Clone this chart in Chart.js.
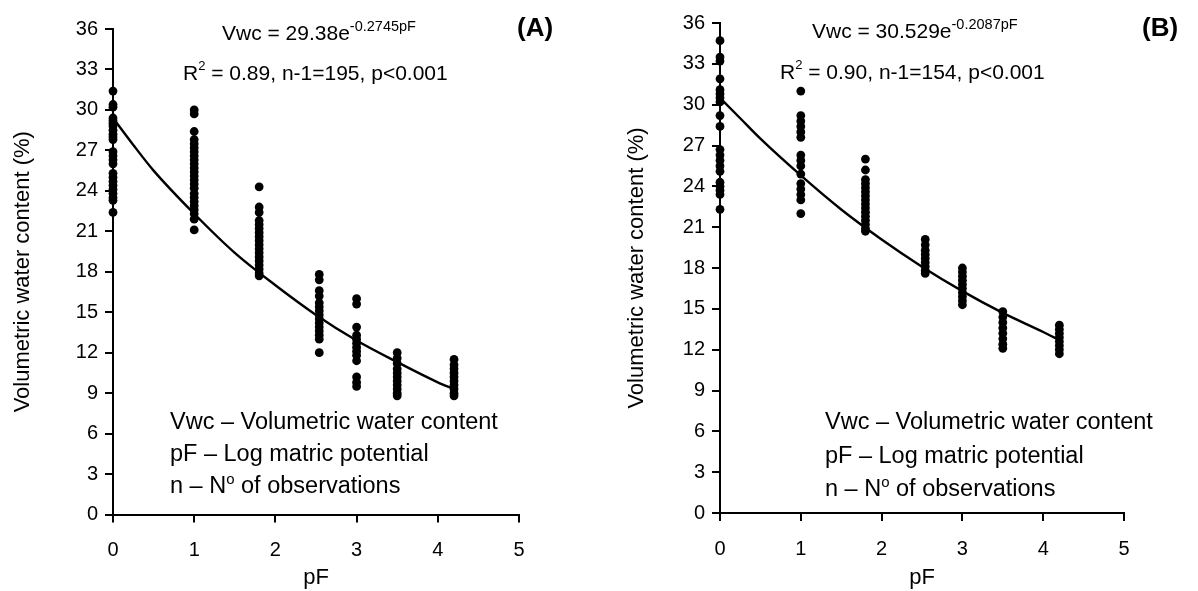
<!DOCTYPE html>
<html lang="en">
<head>
<meta charset="UTF-8">
<title>Volumetric water content vs pF</title>
<script src="https://cdn.jsdelivr.net/npm/chart.js@4.4.1/dist/chart.umd.min.js"></script>
<style>
  body { margin: 0; background: #fff; width: 1198px; height: 591px; overflow: hidden; position: relative;
         font-family: "Liberation Sans", Arial, sans-serif; color: #000; }
  canvas { position: absolute; top: 0; }
  #chartA { left: 0; }
  #chartB { left: 600px; }
  .note { position: absolute; white-space: nowrap; line-height: 1.2; }
  .eq { font-size: 21px; }
  .eq sup { font-size: 14.5px; position: relative; top: -1px; vertical-align: super; line-height: 0; }
  .r2 sup { font-size: 13px; vertical-align: super; line-height: 0; position: relative; top: -2px; }
  .tag { font-size: 26px; font-weight: bold; }
  .key { font-size: 23.5px; }
</style>
</head>
<body>
<canvas id="chartA" width="600" height="591"></canvas>
<canvas id="chartB" width="598" height="591"></canvas>

<div class="note eq" style="left:222px; top:20px">Vwc = 29.38e<sup>-0.2745pF</sup></div>
<div class="note eq r2" style="left:183px; top:60px">R<sup>2</sup> = 0.89, n-1=195, p&lt;0.001</div>
<div class="note tag" style="left:517px; top:12px">(A)</div>
<div class="note key" style="left:170px; top:407px">Vwc – Volumetric water content</div>
<div class="note key" style="left:170px; top:439px">pF – Log matric potential</div>
<div class="note key" style="left:170px; top:471px">n – N<sup style="font-size:15px;vertical-align:super;line-height:0">o</sup> of observations</div>

<div class="note eq" style="left:812px; top:18px">Vwc = 30.529e<sup>-0.2087pF</sup></div>
<div class="note eq r2" style="left:780px; top:59px">R<sup>2</sup> = 0.90, n-1=154, p&lt;0.001</div>
<div class="note tag" style="left:1142px; top:12px">(B)</div>
<div class="note key" style="left:825px; top:407px">Vwc – Volumetric water content</div>
<div class="note key" style="left:825px; top:441px">pF – Log matric potential</div>
<div class="note key" style="left:825px; top:474px">n – N<sup style="font-size:15px;vertical-align:super;line-height:0">o</sup> of observations</div>

<script>
// pF levels at which samples were measured
const PF_LEVELS = [0, 1, 1.8, 2.54, 3, 3.5, 4.2];

const A_PF0 = [31.4, 30.4, 30.2, 29.4, 29.2, 29.0, 28.8, 28.5, 28.2, 28.0, 27.8, 26.9, 26.6, 26.3, 26.0, 25.3, 25.0, 24.7, 24.4, 24.1, 23.8, 23.5, 23.3, 22.4];
const A_PF1 = [30.0, 29.7, 28.4, 27.8, 27.5, 27.2, 26.9, 26.6, 26.3, 26.0, 25.7, 25.4, 25.1, 24.8, 24.5, 24.2, 23.8, 23.5, 23.2, 22.9, 22.6, 22.3, 21.9, 21.1];
const A_PF18 = [24.3, 22.8, 22.4, 21.8, 21.5, 21.2, 20.9, 20.6, 20.3, 20.0, 19.7, 19.4, 19.1, 18.8, 18.5, 18.2, 17.9, 17.7];
const A_PF254 = [17.8, 17.4, 16.6, 16.2, 15.7, 15.4, 15.1, 14.8, 14.5, 14.2, 13.9, 13.6, 13.3, 13.0, 12.0];
const A_PF3 = [16.0, 15.6, 13.9, 13.3, 13.0, 12.7, 12.4, 12.1, 11.8, 11.4, 10.2, 9.8, 9.5];
const A_PF35 = [12.0, 11.6, 11.2, 10.8, 10.5, 10.2, 9.9, 9.6, 9.3, 9.0, 8.8];
const A_PF42 = [11.5, 11.1, 10.8, 10.5, 10.2, 9.9, 9.6, 9.3, 9.0, 8.8];

// (B) observed water content (%) per pF level
const B_PF0 = [34.7, 33.5, 33.2, 31.9, 31.1, 30.8, 30.5, 30.2, 29.2, 28.4, 26.7, 26.3, 25.9, 25.5, 25.1, 24.3, 24.0, 23.7, 23.4, 22.3];
const B_PF1 = [31.0, 29.2, 28.8, 28.4, 28.0, 27.6, 26.3, 25.9, 25.5, 24.9, 24.2, 23.8, 23.4, 23.0, 22.0];
const B_PF18 = [26.0, 25.2, 24.5, 24.2, 23.9, 23.6, 23.3, 23.0, 22.7, 22.4, 22.1, 21.8, 21.5, 21.2, 20.9, 20.7];
const B_PF254 = [20.1, 19.7, 19.3, 19.0, 18.7, 18.4, 18.1, 17.8, 17.6];
const B_PF3 = [18.0, 17.7, 17.4, 17.1, 16.8, 16.5, 16.2, 15.9, 15.6, 15.3];
const B_PF35 = [14.8, 14.4, 14.0, 13.6, 13.2, 12.8, 12.4, 12.1];
const B_PF42 = [13.8, 13.5, 13.2, 12.9, 12.6, 12.3, 12.0, 11.7];

// fitted curves at these pF values
const CURVE_PF = [0, 0.25, 0.5, 1, 1.5, 2, 2.5, 3, 3.5, 4, 4.2];
const A_CURVE = [29.4, 27.4, 25.5, 22.3, 19.4, 17.0, 14.8, 12.9, 11.3, 9.8, 9.3];
const B_CURVE = [30.5, 29.0, 27.5, 24.8, 22.3, 20.1, 18.1, 16.3, 14.7, 13.3, 12.7];

// tick values
const X_TICKS = [0, 1, 2, 3, 4, 5];
const Y_TICKS = [0, 3, 6, 9, 12, 15, 18, 21, 24, 27, 30, 33, 36];

const FONT = '"Liberation Sans", Arial, sans-serif';

function points(levels, columns) {
  return levels.flatMap((pf, i) => columns[i].map((v) => ({ x: pf, y: v })));
}

function axisStyle() {
  return {
    grid: { display: true, drawOnChartArea: false, drawTicks: true, tickLength: 8, color: '#000', lineWidth: 2 },
    border: { display: true, color: '#000', width: 2 },
  };
}

function makePanel(id, columns, curve, geo) {
  new Chart(document.getElementById(id), {
    type: 'scatter',
    data: {
      datasets: [
        {
          data: points(PF_LEVELS, columns),
          pointRadius: 4.4,
          pointBackgroundColor: '#000',
          pointBorderWidth: 0,
          clip: false,
        },
        {
          data: CURVE_PF.map((x, i) => ({ x, y: curve[i] })),
          showLine: true,
          borderColor: '#000',
          borderWidth: 2.4,
          pointRadius: 0,
          cubicInterpolationMode: 'monotone',
          clip: false,
        },
      ],
    },
    options: {
      responsive: false,
      animation: false,
      layout: { padding: { left: 0, top: geo.top, right: geo.right, bottom: 0 } },
      plugins: { legend: { display: false }, tooltip: { enabled: false } },
      scales: {
        x: {
          type: 'linear', min: 0, max: 5,
          afterBuildTicks: (s) => { s.ticks = X_TICKS.map((v) => ({ value: v })); },
          afterFit: (s) => { s.height = geo.xHeight; },
          ticks: { color: '#000', padding: 16, font: { family: FONT, size: 20 } },
          title: { display: true, text: 'pF', color: '#000', padding: { top: 0, bottom: 0 }, font: { family: FONT, size: 22 } },
          ...axisStyle(),
        },
        y: {
          type: 'linear', min: 0, max: 36,
          afterBuildTicks: (s) => { s.ticks = Y_TICKS.map((v) => ({ value: v })); },
          afterFit: (s) => { s.width = geo.yWidth; },
          ticks: { color: '#000', padding: 7, font: { family: FONT, size: 20 } },
          title: { display: true, text: 'Volumetric water content (%)', color: '#000', padding: { top: geo.titlePad, bottom: 0 }, font: { family: FONT, size: 22 } },
          ...axisStyle(),
        },
      },
    },
  });
}

makePanel('chartA', [A_PF0, A_PF1, A_PF18, A_PF254, A_PF3, A_PF35, A_PF42], A_CURVE,
  { top: 29, right: 81, xHeight: 76.5, yWidth: 113, titlePad: 10 });
makePanel('chartB', [B_PF0, B_PF1, B_PF18, B_PF254, B_PF3, B_PF35, B_PF42], B_CURVE,
  { top: 23, right: 74, xHeight: 78, yWidth: 120, titlePad: 24 });
</script>
</body>
</html>
